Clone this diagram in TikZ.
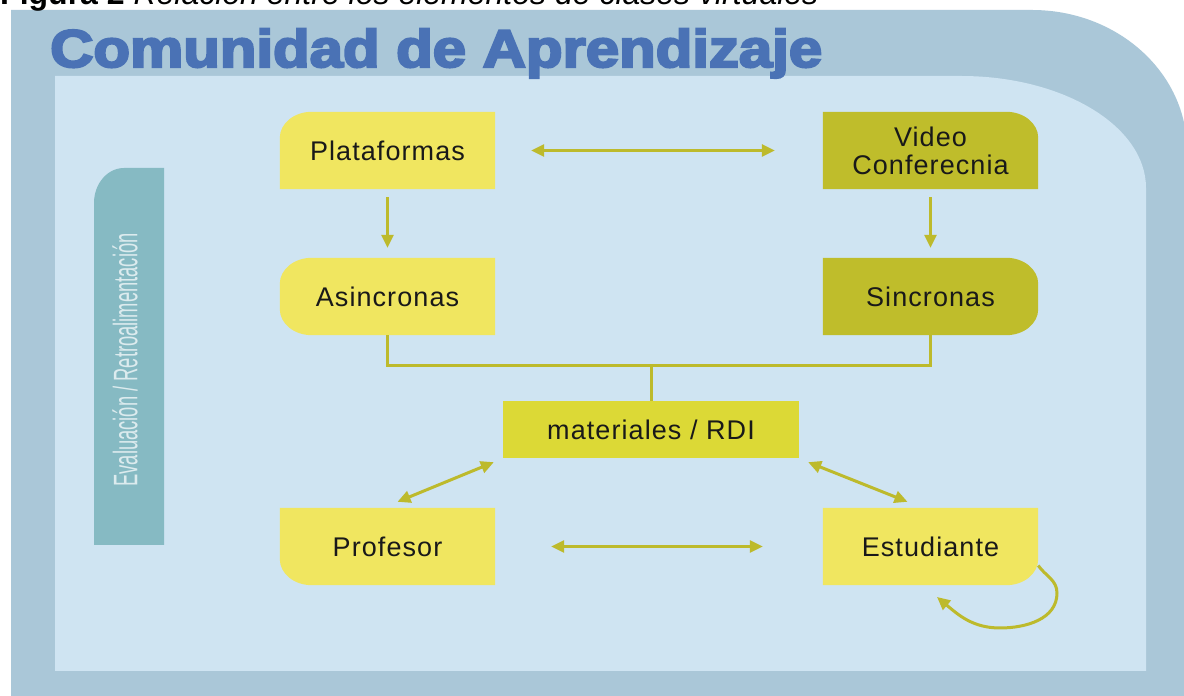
\documentclass[tikz,border=0pt]{standalone}
\usepackage{fontspec}
\setmainfont{Liberation Sans}
\newfontfamily\titlefont[UprightFont={* Bold},FakeBold=4]{Liberation Sans}
\newfontfamily\boxfont[LetterSpace=4]{Liberation Sans}
\usetikzlibrary{arrows.meta,backgrounds}
\definecolor{outerc}{HTML}{AAC7D8}
\definecolor{innerc}{HTML}{CFE4F2}
\definecolor{barc}{HTML}{86BAC3}
\definecolor{bartxt}{HTML}{DCEBEE}
\definecolor{yelc}{HTML}{F0E660}
\definecolor{olic}{HTML}{BFBD2B}
\definecolor{matc}{HTML}{DCD936}
\definecolor{linec}{HTML}{BDBA2C}
\definecolor{titlec}{HTML}{4A72B5}
\tikzset{
  box/.style={inner sep=0pt, minimum width=215pt, minimum height=77pt, align=center,
    font=\boxfont\fontsize{27}{28}\selectfont, text=black!90},
  conn/.style={draw=linec, line width=3pt},
  dbl/.style={conn, {Triangle[length=13pt,width=12pt]}-{Triangle[length=13pt,width=12pt]}},
  sgl/.style={conn, -{Triangle[length=13pt,width=12pt]}}
}
\begin{document}
\begin{tikzpicture}[x=1pt,y=1pt]
\useasboundingbox (0,0) rectangle (1184,696);
\begin{pgfonlayer}{background}
\fill[white] (0,0) rectangle (1184,696);
\fill[outerc] (11,-5) -- (11,686) -- (1032,686) arc[start angle=90,end angle=0,x radius=155,y radius=140] -- (1187,-5) -- cycle;
\fill[innerc] (55,25) -- (55,620) -- (961,620) arc[start angle=90,end angle=0,x radius=185,y radius=112] -- (1146,25) -- cycle;
\fill[barc] (94,151) -- (94,493) arc[start angle=180,end angle=90,x radius=30,y radius=35] -- (164,528) -- (164,151) -- cycle;
\end{pgfonlayer}

\node[anchor=base west, inner sep=0pt, font=\fontsize{32}{32}\selectfont] (cap) at (0,691)
  {\textbf{Figura 2} \textit{Relación entre los elementos de clases virtuales}};
\node[anchor=base west, inner sep=0pt, text=titlec, font=\titlefont\fontsize{53}{53}\selectfont] (title) at (50,629)
  {\scalebox{1.13}[1]{Comunidad de Aprendizaje}};
\node[rotate=90, inner sep=0pt, text=bartxt, font=\fontsize{34}{34}\selectfont] (bartext) at (125,336)
  {\scalebox{0.54}[1]{Evaluación / Retroalimentación}};

\node[box] (plat) at (387.5,545.5) {Plataformas};
\node[box] (video) at (930.5,545.5) {Video\\Conferecnia};
\node[box] (asinc) at (387.5,399.5) {Asincronas};
\node[box] (sinc) at (930.5,399.5) {Sincronas};
\node[box, minimum width=296pt, minimum height=57pt, fill=matc] (mat) at (651,266.5) {materiales / RDI};
\node[box] (prof) at (387.5,149.5) {Profesor};
\node[box] (est) at (930.5,149.5) {Estudiante};

\begin{pgfonlayer}{background}
\fill[yelc] (plat.south west) -- ([yshift=-26pt]plat.north west) arc[start angle=180,end angle=90,x radius=32,y radius=26] -- (plat.north east) -- (plat.south east) -- cycle;
\fill[yelc] ([yshift=26pt]asinc.south west) -- ([yshift=-26pt]asinc.north west) arc[start angle=180,end angle=90,x radius=32,y radius=26] -- (asinc.north east) -- (asinc.south east) -- ([xshift=32pt]asinc.south west) arc[start angle=270,end angle=180,x radius=32,y radius=26] -- cycle;
\fill[olic] (video.south west) -- (video.north west) -- ([xshift=-32pt]video.north east) arc[start angle=90,end angle=0,x radius=32,y radius=26] -- (video.south east) -- cycle;
\fill[olic] (sinc.south west) -- (sinc.north west) -- ([xshift=-32pt]sinc.north east) arc[start angle=90,end angle=0,x radius=32,y radius=26] -- ([yshift=26pt]sinc.south east) arc[start angle=0,end angle=-90,x radius=32,y radius=26] -- cycle;
\fill[yelc] (prof.north west) -- (prof.north east) -- (prof.south east) -- ([xshift=32pt]prof.south west) arc[start angle=270,end angle=180,x radius=32,y radius=26] -- cycle;
\fill[yelc] (est.south west) -- (est.north west) -- (est.north east) -- ([yshift=26pt]est.south east) arc[start angle=0,end angle=-90,x radius=32,y radius=26] -- cycle;
\end{pgfonlayer}

\draw[dbl, shorten <=36pt, shorten >=48pt] (plat) -- (video);
\draw[sgl, shorten <=8pt, shorten >=10pt] (plat) -- (asinc);
\draw[sgl, shorten <=8pt, shorten >=10pt] (video) -- (sinc);
\coordinate (bus) at (651,330);
\draw[conn] (asinc.south) |- (bus) -| (sinc.south);
\draw[conn] (bus) -- (mat.north);
\draw[dbl] ([shift={(-9pt,-4pt)}]mat.south west) -- ([shift={(10pt,6pt)}]prof.north);
\draw[dbl] ([shift={(9pt,-4pt)}]mat.south east) -- ([shift={(-23pt,6pt)}]est.north);
\draw[dbl, shorten <=56pt, shorten >=60pt] (prof) -- (est);
\coordinate (loopA) at (1057,103);
\coordinate (loopB) at (1000,68);
\coordinate (loopEnd) at (937,99);
\draw[sgl] ([yshift=-19pt]est.east) to[out=-55,in=90] (loopA) to[out=-90,in=0] (loopB) to[out=180,in=-40] (loopEnd);
\end{tikzpicture}
\end{document}
